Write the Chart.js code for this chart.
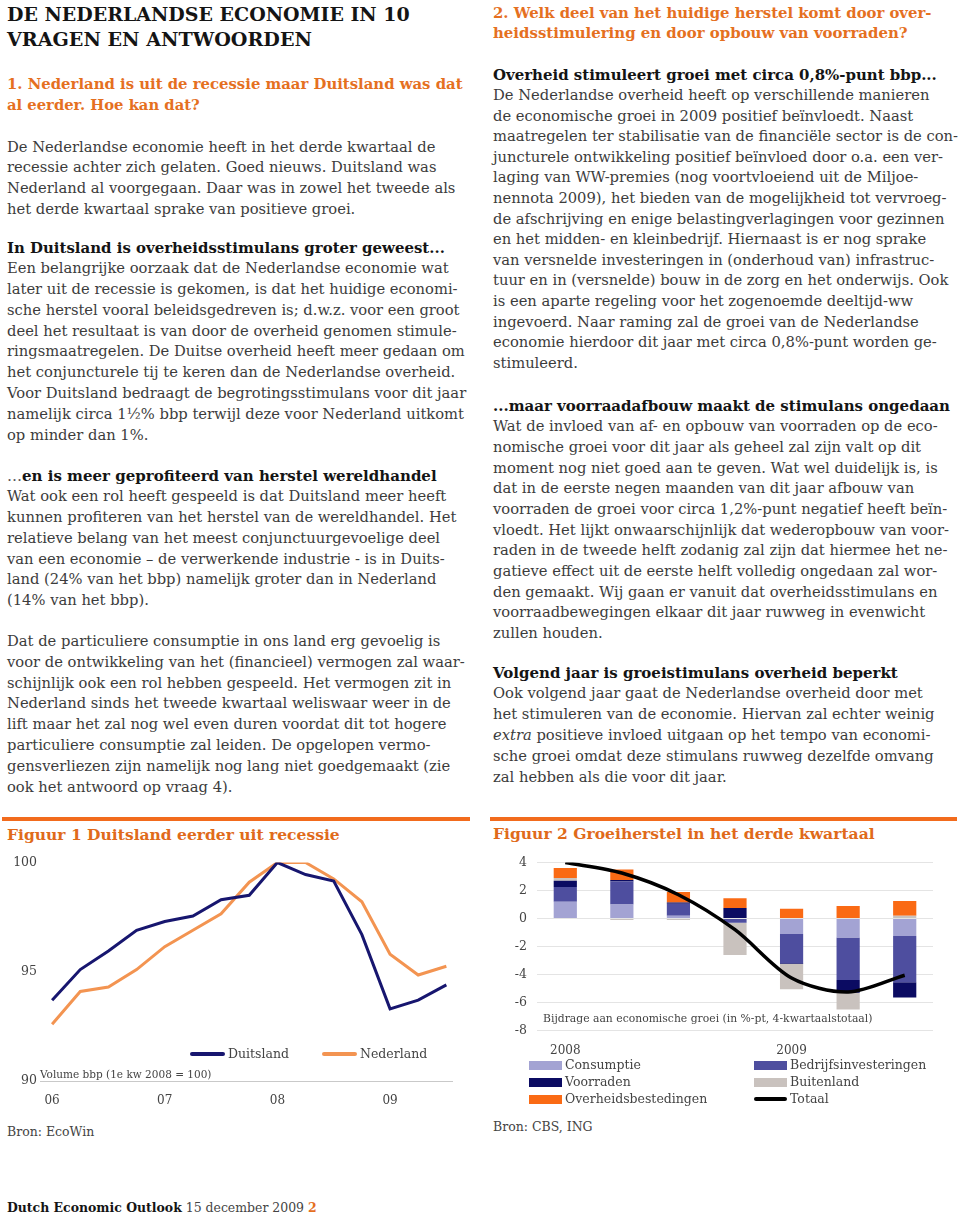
<!DOCTYPE html>
<html><head><meta charset="utf-8">
<script src="https://cdn.jsdelivr.net/npm/chart.js@4.4.0/dist/chart.umd.min.js"></script>
<style>
html,body{margin:0;padding:0;background:#fff;}
body{width:960px;height:1215px;position:relative;overflow:hidden;font-family:'DejaVu Serif',serif;color:#3c3c3c;}
.abs{position:absolute;white-space:nowrap;}
.blk{position:absolute;white-space:nowrap;line-height:20.8px;}
.blk > div{height:20.8px;}
.body{font-size:14px;}
.fit{display:inline-block;white-space:nowrap;}
.h{font-weight:bold;color:#141414;}
.o{font-weight:bold;color:#E5701F;}
.lt{font-weight:normal;color:#555;}
.rule{position:absolute;height:4px;background:#F26B1D;}
.ctext{position:absolute;white-space:nowrap;color:#444;}
</style></head>
<body>

<!-- LEFT COLUMN -->
<div class="blk" style="left:7px;top:2px;line-height:25px;">
  <div style="height:25px"><span class="fit h" style="font-size:18px" data-w="403">DE NEDERLANDSE ECONOMIE IN 10</span></div>
  <div style="height:25px"><span class="fit h" style="font-size:18px" data-w="305">VRAGEN EN ANTWOORDEN</span></div>
</div>
<div class="blk" style="left:7px;top:73px;line-height:21px;">
  <div style="height:21px"><span class="fit o" style="font-size:14px" data-w="456">1. Nederland is uit de recessie maar Duitsland was dat</span></div>
  <div style="height:21px"><span class="fit o" style="font-size:14px" data-w="193">al eerder. Hoe kan dat?</span></div>
</div>
<div class="blk" style="left:7px;top:136.5px;">
  <div><span class="body" id="refL">De Nederlandse economie heeft in het derde kwartaal de</span></div>
  <div><span class="body">recessie achter zich gelaten. Goed nieuws. Duitsland was</span></div>
  <div><span class="body">Nederland al voorgegaan. Daar was in zowel het tweede als</span></div>
  <div><span class="body">het derde kwartaal sprake van positieve groei.</span></div>
</div>
<div class="blk" style="left:7px;top:237.5px;">
  <div><span class="fit h" style="font-size:14px" data-w="438">In Duitsland is overheidsstimulans groter geweest...</span></div>
  <div><span class="body">Een belangrijke oorzaak dat de Nederlandse economie wat</span></div>
  <div><span class="body">later uit de recessie is gekomen, is dat het huidige economi-</span></div>
  <div><span class="body">sche herstel vooral beleidsgedreven is; d.w.z. voor een groot</span></div>
  <div><span class="body">deel het resultaat is van door de overheid genomen stimule-</span></div>
  <div><span class="body">ringsmaatregelen. De Duitse overheid heeft meer gedaan om</span></div>
  <div><span class="body">het conjuncturele tij te keren dan de Nederlandse overheid.</span></div>
  <div><span class="body">Voor Duitsland bedraagt de begrotingsstimulans voor dit jaar</span></div>
  <div><span class="body">namelijk circa 1½% bbp terwijl deze voor Nederland uitkomt</span></div>
  <div><span class="body">op minder dan 1%.</span></div>
</div>
<div class="blk" style="left:7px;top:465.5px;">
  <div><span class="fit h" style="font-size:14px" data-w="430"><span class="lt">…</span>en is meer geprofiteerd van herstel wereldhandel</span></div>
  <div><span class="body">Wat ook een rol heeft gespeeld is dat Duitsland meer heeft</span></div>
  <div><span class="body">kunnen profiteren van het herstel van de wereldhandel. Het</span></div>
  <div><span class="body">relatieve belang van het meest conjunctuurgevoelige deel</span></div>
  <div><span class="body">van een economie – de verwerkende industrie - is in Duits-</span></div>
  <div><span class="body">land (24% van het bbp) namelijk groter dan in Nederland</span></div>
  <div><span class="body">(14% van het bbp).</span></div>
</div>
<div class="blk" style="left:7px;top:631px;">
  <div><span class="body">Dat de particuliere consumptie in ons land erg gevoelig is</span></div>
  <div><span class="body">voor de ontwikkeling van het (financieel) vermogen zal waar-</span></div>
  <div><span class="body">schijnlijk ook een rol hebben gespeeld. Het vermogen zit in</span></div>
  <div><span class="body">Nederland sinds het tweede kwartaal weliswaar weer in de</span></div>
  <div><span class="body">lift maar het zal nog wel even duren voordat dit tot hogere</span></div>
  <div><span class="body">particuliere consumptie zal leiden. De opgelopen vermo-</span></div>
  <div><span class="body">gensverliezen zijn namelijk nog lang niet goedgemaakt (zie</span></div>
  <div><span class="body">ook het antwoord op vraag 4).</span></div>
</div>

<!-- RIGHT COLUMN -->
<div class="blk" style="left:493px;top:2.5px;line-height:20px;">
  <div style="height:20px"><span class="fit o" style="font-size:14px" data-w="439">2. Welk deel van het huidige herstel komt door over-</span></div>
  <div style="height:20px"><span class="fit o" style="font-size:14px" data-w="415">heidsstimulering en door opbouw van voorraden?</span></div>
</div>
<div class="blk" style="left:493px;top:64.5px;line-height:20.6px;">
  <div style="height:20.6px"><span class="fit h" style="font-size:14px" data-w="444">Overheid stimuleert groei met circa 0,8%-punt bbp...</span></div>
  <div style="height:20.6px"><span class="body" id="refR">De Nederlandse overheid heeft op verschillende manieren</span></div>
  <div style="height:20.6px"><span class="body">de economische groei in 2009 positief beïnvloedt. Naast</span></div>
  <div style="height:20.6px"><span class="body">maatregelen ter stabilisatie van de financiële sector is de con-</span></div>
  <div style="height:20.6px"><span class="body">juncturele ontwikkeling positief beïnvloed door o.a. een ver-</span></div>
  <div style="height:20.6px"><span class="body">laging van WW-premies (nog voortvloeiend uit de Miljoe-</span></div>
  <div style="height:20.6px"><span class="body">nennota 2009), het bieden van de mogelijkheid tot vervroeg-</span></div>
  <div style="height:20.6px"><span class="body">de afschrijving en enige belastingverlagingen voor gezinnen</span></div>
  <div style="height:20.6px"><span class="body">en het midden- en kleinbedrijf. Hiernaast is er nog sprake</span></div>
  <div style="height:20.6px"><span class="body">van versnelde investeringen in (onderhoud van) infrastruc-</span></div>
  <div style="height:20.6px"><span class="body">tuur en in (versnelde) bouw in de zorg en het onderwijs. Ook</span></div>
  <div style="height:20.6px"><span class="body">is een aparte regeling voor het zogenoemde deeltijd-ww</span></div>
  <div style="height:20.6px"><span class="body">ingevoerd. Naar raming zal de groei van de Nederlandse</span></div>
  <div style="height:20.6px"><span class="body">economie hierdoor dit jaar met circa 0,8%-punt worden ge-</span></div>
  <div style="height:20.6px"><span class="body">stimuleerd.</span></div>
</div>
<div class="blk" style="left:493px;top:395.6px;line-height:20.7px;">
  <div style="height:20.7px"><span class="fit h" style="font-size:14px" data-w="457">...maar voorraadafbouw maakt de stimulans ongedaan</span></div>
  <div style="height:20.7px"><span class="body">Wat de invloed van af- en opbouw van voorraden op de eco-</span></div>
  <div style="height:20.7px"><span class="body">nomische groei voor dit jaar als geheel zal zijn valt op dit</span></div>
  <div style="height:20.7px"><span class="body">moment nog niet goed aan te geven. Wat wel duidelijk is, is</span></div>
  <div style="height:20.7px"><span class="body">dat in de eerste negen maanden van dit jaar afbouw van</span></div>
  <div style="height:20.7px"><span class="body">voorraden de groei voor circa 1,2%-punt negatief heeft beïn-</span></div>
  <div style="height:20.7px"><span class="body">vloedt. Het lijkt onwaarschijnlijk dat wederopbouw van voor-</span></div>
  <div style="height:20.7px"><span class="body">raden in de tweede helft zodanig zal zijn dat hiermee het ne-</span></div>
  <div style="height:20.7px"><span class="body">gatieve effect uit de eerste helft volledig ongedaan zal wor-</span></div>
  <div style="height:20.7px"><span class="body">den gemaakt. Wij gaan er vanuit dat overheidsstimulans en</span></div>
  <div style="height:20.7px"><span class="body">voorraadbewegingen elkaar dit jaar ruwweg in evenwicht</span></div>
  <div style="height:20.7px"><span class="body">zullen houden.</span></div>
</div>
<div class="blk" style="left:493px;top:662.6px;">
  <div><span class="fit h" style="font-size:14px" data-w="405">Volgend jaar is groeistimulans overheid beperkt</span></div>
  <div><span class="body">Ook volgend jaar gaat de Nederlandse overheid door met</span></div>
  <div><span class="body">het stimuleren van de economie. Hiervan zal echter weinig</span></div>
  <div><span class="body"><i>extra</i> positieve invloed uitgaan op het tempo van economi-</span></div>
  <div><span class="body">sche groei omdat deze stimulans ruwweg dezelfde omvang</span></div>
  <div><span class="body">zal hebben als die voor dit jaar.</span></div>
</div>

<!-- FIGURE 1 -->
<div class="rule" style="left:2px;top:817px;width:468px;"></div>
<div class="abs" style="left:7px;top:824px;line-height:22px;"><span class="fit o" style="font-size:15px;color:#E06A1A" data-w="333">Figuur 1 Duitsland eerder uit recessie</span></div>
<div style="position:absolute;left:0;top:852px;width:470px;height:259px;"><canvas id="c1"></canvas></div>
<div id="leg1"></div>
<div class="ctext" style="left:40px;top:1067px;font-size:10.5px;line-height:14px;">Volume bbp (1e kw 2008 = 100)</div>
<div class="ctext" style="left:7px;top:1124px;font-size:12.5px;line-height:16px;">Bron: EcoWin</div>

<!-- FIGURE 2 -->
<div class="rule" style="left:490px;top:817px;width:467px;"></div>
<div class="abs" style="left:493px;top:823px;line-height:22px;"><span class="fit o" style="font-size:15px;color:#E06A1A" data-w="382">Figuur 2 Groeiherstel in het derde kwartaal</span></div>
<div style="position:absolute;left:485px;top:844.5px;width:475px;height:215.5px;"><canvas id="c2"></canvas></div>
<div class="ctext" style="left:543px;top:1012px;font-size:10.8px;line-height:14px;">Bijdrage aan economische groei (in %-pt, 4-kwartaalstotaal)</div>
<div id="leg2"></div>
<div class="ctext" style="left:493px;top:1119px;font-size:12.5px;line-height:16px;">Bron: CBS, ING</div>

<!-- FOOTER -->
<div class="abs" style="left:7px;top:1198px;line-height:18px;"><span class="fit" style="font-size:13px" data-w="310"><b style="color:#141414">Dutch Economic Outlook</b> <span style="color:#444">15 december 2009</span> <b style="color:#E5701F">2</b></span></div>

<script>
// ---------- DATA ----------
// Figure 1: GDP volume index (Q1 2008 = 100), quarterly 2006Q1 - 2009Q3
const quarters = ['2006K1','2006K2','2006K3','2006K4','2007K1','2007K2','2007K3','2007K4','2008K1','2008K2','2008K3','2008K4','2009K1','2009K2','2009K3'];
const duitsland = [93.7, 95.1, 95.95, 96.9, 97.3, 97.55, 98.3, 98.5, 100, 99.45, 99.15, 96.7, 93.3, 93.7, 94.4];
const nederland = [92.6, 94.1, 94.3, 95.1, 96.15, 96.9, 97.65, 99.1, 100, 100, 99.25, 98.2, 95.8, 94.85, 95.25];
const fig1TickQuarters = ['2006K1','2007K1','2008K1','2009K1'];
const fig1TickLabels = ['06','07','08','09'];
const fig1YTicks = [90, 95, 100];

// Figure 2: contributions to growth (%-pt, 4-quarter total), 2008Q1 - 2009Q3
const periods = ['2008K1','2008K2','2008K3','2008K4','2009K1','2009K2','2009K3'];
const periodLabels = ['2008','','','','2009','',''];
const consumptie = [1.2, 1.0, 0.2, 0.0, -1.1, -1.35, -1.25];
const bedrijfsinvesteringen = [1.05, 1.65, 0.85, -0.3, -2.1, -3.05, -3.3];
const voorraden = [0.45, 0.1, 0.1, 0.75, -0.05, -0.9, -1.1];
const buitenland = [0.2, -0.1, -0.1, -2.3, -1.8, -1.2, 0.2];
const overheidsbestedingen = [0.7, 0.75, 0.75, 0.7, 0.7, 0.9, 1.05];
const totaal = [4.0, 3.25, 1.7, -0.8, -4.25, -5.25, -4.05];
const fig2YTicks = [-8, -6, -4, -2, 0, 2, 4];

// ---------- TEXT FITTING ----------
(function(){
  const refs = [['refL', 426], ['refR', 439]];
  let sum = 0;
  refs.forEach(([id, w]) => {
    const el = document.getElementById(id);
    sum += 14 * w / el.getBoundingClientRect().width;
  });
  const fs = sum / refs.length;
  document.querySelectorAll('.body').forEach(el => el.style.fontSize = fs + 'px');
  document.querySelectorAll('[data-w]').forEach(el => {
    const w = +el.dataset.w;
    const cur = parseFloat(getComputedStyle(el).fontSize);
    const m = el.getBoundingClientRect().width;
    el.style.fontSize = (cur * w / m) + 'px';
  });
})();

// ---------- CHARTS ----------
Chart.defaults.font.family = "'DejaVu Serif', serif";
Chart.defaults.color = '#444';
Chart.defaults.animation = false;

const qIndex = q => quarters.indexOf(q);

const c1 = new Chart(document.getElementById('c1'), {
  type: 'line',
  data: {
    datasets: [
      { label: 'Duitsland', data: duitsland.map((v, i) => ({ x: i, y: v })), borderColor: '#17166F', borderWidth: 3, pointRadius: 0, pointHoverRadius: 0, tension: 0, fill: false },
      { label: 'Nederland', data: nederland.map((v, i) => ({ x: i, y: v })), borderColor: '#F39451', borderWidth: 3, pointRadius: 0, pointHoverRadius: 0, tension: 0, fill: false }
    ]
  },
  options: {
    responsive: true, maintainAspectRatio: false,
    layout: { autoPadding: false, padding: { top: 10, right: 18, left: 0, bottom: 0 } },
    plugins: { legend: { display: false }, tooltip: { enabled: false } },
    scales: {
      x: {
        type: 'linear', min: -0.43, max: 14.2,
        grid: { display: false, drawTicks: false },
        border: { display: true, color: '#c9c9c9', width: 1 },
        afterBuildTicks: s => { s.ticks = fig1TickQuarters.map(q => ({ value: qIndex(q) })); },
        ticks: { padding: 13, font: { size: 12 }, color: '#444', maxRotation: 0,
          callback: v => fig1TickLabels[fig1TickQuarters.indexOf(quarters[v])] },
        afterFit: s => { s.height = 30; }
      },
      y: {
        min: 90, max: 100,
        grid: { display: false, drawTicks: false },
        border: { display: false },
        afterBuildTicks: s => { s.ticks = fig1YTicks.map(v => ({ value: v })); },
        ticks: { padding: 3, font: { size: 12.5 }, color: '#444' },
        afterFit: s => { s.width = 40; }
      }
    }
  }
});

const barColors = ['#A3A3D3', '#4E4E9F', '#0B0B62', '#C9C2BE', '#FA6A14'];
const barLabels = ['Consumptie', 'Bedrijfsinvesteringen', 'Voorraden', 'Buitenland', 'Overheidsbestedingen'];
const barSeries = [consumptie, bedrijfsinvesteringen, voorraden, buitenland, overheidsbestedingen];

const c2 = new Chart(document.getElementById('c2'), {
  type: 'bar',
  data: {
    labels: periods,
    datasets: barSeries.map((d, i) => ({
      type: 'bar', label: barLabels[i], data: d, backgroundColor: barColors[i],
      borderWidth: 0, barPercentage: 0.82, categoryPercentage: 0.5, stack: 'bars', order: 1
    })).concat([{
      type: 'line', label: 'Totaal', data: totaal, borderColor: '#000', borderWidth: 3.5,
      pointRadius: 0, pointHoverRadius: 0, tension: 0.3, fill: false, stack: 'line', order: 0
    }])
  },
  options: {
    responsive: true, maintainAspectRatio: false,
    layout: { autoPadding: false, padding: { top: 10, right: 27, left: 0, bottom: 0 } },
    plugins: { legend: { display: false }, tooltip: { enabled: false } },
    scales: {
      x: {
        stacked: true,
        grid: { display: false, drawTicks: false },
        border: { display: false },
        ticks: { padding: 13, font: { size: 12 }, color: '#444', autoSkip: false, maxRotation: 0,
          callback: (v, i) => periodLabels[i] },
        afterFit: s => { s.height = 30; }
      },
      y: {
        stacked: true, min: -8, max: 4,
        grid: { color: '#e4e4e4', lineWidth: 1, drawTicks: false },
        border: { display: false },
        afterBuildTicks: s => { s.ticks = fig2YTicks.map(v => ({ value: v })); },
        ticks: { padding: 10, font: { size: 12.5 }, color: '#444' },
        afterFit: s => { s.width = 52; }
      }
    }
  }
});

// ---------- HTML LEGENDS (built from the chart datasets) ----------
(function(){
  const leg1 = document.getElementById('leg1');
  const pos1 = [[190, 1054], [322, 1054]];
  c1.data.datasets.forEach((ds, i) => {
    const [x, y] = pos1[i];
    const sw = document.createElement('div');
    sw.style.cssText = `position:absolute;left:${x}px;top:${y - 2}px;width:35px;height:4px;background:${ds.borderColor};border-radius:2px;`;
    leg1.appendChild(sw);
    const t = document.createElement('div');
    t.className = 'ctext';
    t.style.cssText += `left:${x + 38}px;top:${y - 8}px;font-size:12.5px;line-height:16px;`;
    t.textContent = ds.label;
    leg1.appendChild(t);
  });
  const leg2 = document.getElementById('leg2');
  const colsX = [529, 754], rowsY = [1065, 1082, 1099];
  c2.data.datasets.forEach((ds, i) => {
    const x = colsX[i % 2], y = rowsY[Math.floor(i / 2)];
    const sw = document.createElement('div');
    if (ds.type === 'line') {
      sw.style.cssText = `position:absolute;left:${x}px;top:${y - 2}px;width:33px;height:4px;background:${ds.borderColor};border-radius:2px;`;
    } else {
      sw.style.cssText = `position:absolute;left:${x}px;top:${y - 4}px;width:33px;height:9px;background:${ds.backgroundColor};`;
    }
    leg2.appendChild(sw);
    const t = document.createElement('div');
    t.className = 'ctext';
    t.style.cssText += `left:${x + 36}px;top:${y - 8}px;font-size:12.5px;line-height:16px;`;
    t.textContent = ds.label;
    leg2.appendChild(t);
  });
})();
</script>
</body></html>
